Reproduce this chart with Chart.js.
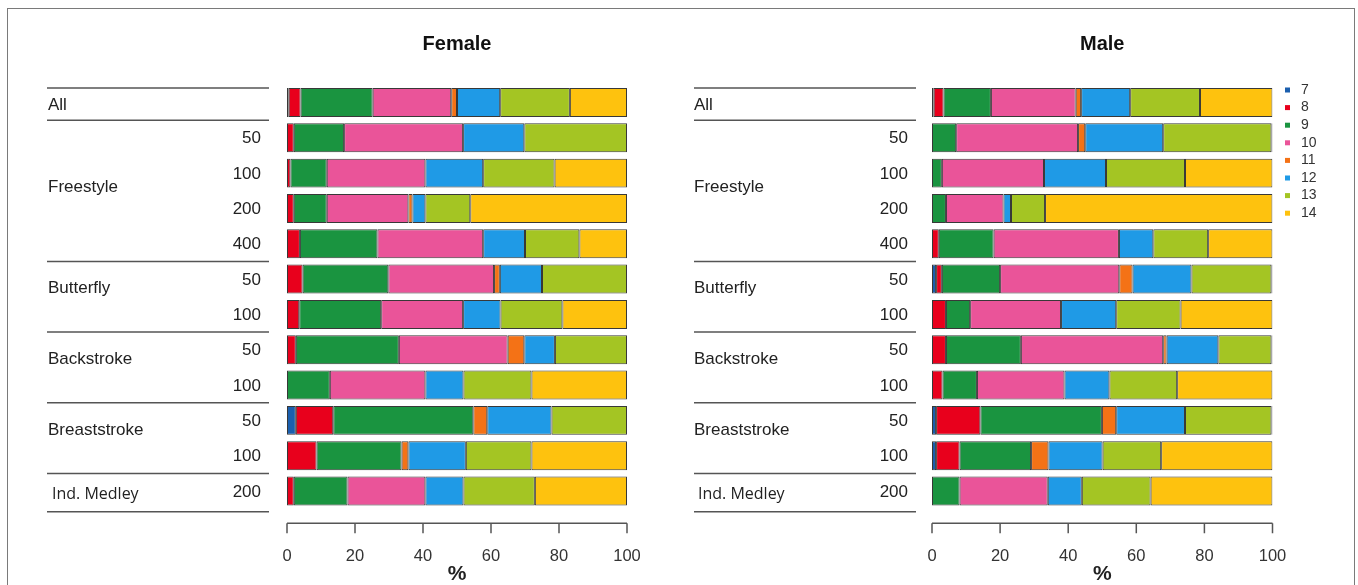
<!DOCTYPE html>
<html>
<head>
<meta charset="utf-8">
<script src="https://cdn.jsdelivr.net/npm/chart.js@4.4.0/dist/chart.umd.min.js"></script>
<style>
  body { margin: 0; background: #fff; width: 1358px; height: 585px; overflow: hidden; position: relative; }
  #frame { position: absolute; left: 7px; top: 8px; width: 1346px; height: 600px; border: 1.5px solid #7a7a7a; }
  canvas { position: absolute; top: 0; }
</style>
</head>
<body>
<div id="frame"></div>
<canvas id="femaleChart" width="679" height="585" style="left:0"></canvas>
<canvas id="maleChart" width="679" height="585" style="left:679px"></canvas>
<script>
// rows of the table
const strokes = ['All', 'Freestyle', 'Freestyle', 'Freestyle', 'Freestyle', 'Butterfly', 'Butterfly',
  'Backstroke', 'Backstroke', 'Breaststroke', 'Breaststroke', 'Ind. Medley'];
const distances = ['', '50', '100', '200', '400', '50', '100', '50', '100', '50', '100', '200'];
const ages = ['7', '8', '9', '10', '11', '12', '13', '14'];
const xTicks = [0, 20, 40, 60, 80, 100];

// female, % per age (rows as above)
const female7  = [0.5, 0, 0, 0, 0, 0, 0, 0, 0, 2.6, 0, 0];
const female8  = [3.5, 2, 1, 2, 3.8, 4.6, 3.6, 2.6, 0, 11, 8.7, 2];
const female9  = [21.2, 14.8, 10.7, 9.7, 22.8, 25.2, 24.1, 30.3, 12.6, 41.2, 25, 15.8];
const female10 = [23.1, 35, 29, 24, 31.1, 31.1, 24.1, 32, 28.1, 0, 0, 22.9];
const female11 = [1.7, 0, 0, 1.2, 0, 1.7, 0, 4.9, 0, 4.1, 2, 0];
const female12 = [12.7, 18, 17, 3.8, 12.3, 12.4, 11, 9, 11.2, 18.9, 16.9, 11.2];
const female13 = [20.5, 30.2, 21, 13.2, 16, 25, 18.2, 21.2, 20, 22.2, 19.3, 21];
const female14 = [16.8, 0, 21.3, 46.1, 14, 0, 19, 0, 28.1, 0, 28.1, 27.1];

// male
const male7  = [0.5, 0, 0, 0, 0, 1.2, 0, 0, 0, 1.2, 1.2, 0];
const male8  = [2.9, 0, 0, 0, 2, 1.7, 4.1, 4.1, 3.1, 13, 6.9, 0];
const male9  = [13.9, 7.1, 2.9, 4.1, 16.1, 17.1, 7.1, 22, 10.1, 35.7, 21, 8.1];
const male10 = [24.9, 35.8, 30, 16.9, 36.8, 35, 26.7, 41.8, 25.7, 0, 0, 25.9];
const male11 = [1.6, 2.1, 0, 0, 0, 3.9, 0, 1, 0, 4.2, 5.1, 0];
const male12 = [14.4, 22.9, 18.2, 2.2, 10.1, 17.3, 16.2, 15.2, 13.2, 20.2, 15.9, 10];
const male13 = [20.5, 31.8, 23.2, 10, 16.1, 23.5, 18.9, 15.6, 19.9, 25.4, 17.2, 20.2];
const male14 = [21.3, 0.3, 25.7, 66.8, 18.9, 0.3, 27, 0.3, 28, 0.3, 32.7, 35.8];

const ageColors = ['#1b5fae', '#e8001c', '#1a9440', '#ea5499', '#f47216', '#1f9ae6', '#a4c523', '#fec20e'];

const FONT = '"Liberation Sans", Arial, sans-serif';

// table labels, separators, title, axis line and legend
const tablePlugin = {
  id: 'swimTable',
  afterDraw(chart, args, opts) {
    const { ctx, chartArea } = chart;
    const ys = chart.scales.y, xs = chart.scales.x;
    const rowY = i => ys.getPixelForValue(i);
    const half = (rowY(1) - rowY(0)) / 2;
    ctx.save();

    // panel title
    ctx.fillStyle = '#111';
    ctx.font = 'bold 20px ' + FONT;
    ctx.textAlign = 'center';
    ctx.textBaseline = 'middle';
    ctx.fillText(opts.title, (chartArea.left + chartArea.right) / 2, 44);

    // separators
    ctx.strokeStyle = '#555';
    ctx.lineWidth = 1.5;
    const seps = [rowY(0) - 14.5];
    for (let i = 0; i < strokes.length - 1; i++) {
      if (strokes[i] !== strokes[i + 1]) seps.push(rowY(i) + half);
    }
    seps.push(rowY(strokes.length - 1) + half + 3);
    seps.forEach(y => {
      ctx.beginPath();
      ctx.moveTo(opts.lineLeft, y);
      ctx.lineTo(opts.lineRight, y);
      ctx.stroke();
    });

    // stroke names
    ctx.fillStyle = '#222';
    ctx.textAlign = 'left';
    let start = 0;
    for (let i = 1; i <= strokes.length; i++) {
      if (i === strokes.length || strokes[i] !== strokes[start]) {
        const n = i - start;
        let y = (rowY(start) + rowY(i - 1)) / 2;
        if (n === 1) y += 3; else if (n === 2) y -= 8; else y -= 3;
        if (strokes[start] === 'Ind. Medley') {
          ctx.font = '16px "Open Sans", sans-serif';
          ctx.fillText(strokes[start], opts.labelX + 4, y);
        } else {
          ctx.font = '17px ' + FONT;
          ctx.fillText(strokes[start], opts.labelX, y);
        }
        start = i;
      }
    }

    // distances
    ctx.font = '17px ' + FONT;
    ctx.textAlign = 'right';
    distances.forEach((d, i) => ctx.fillText(d, opts.distRight, rowY(i) + 1));

    // x axis line with ticks
    const ay = chartArea.bottom + 14.5;
    ctx.strokeStyle = '#555';
    ctx.beginPath();
    ctx.moveTo(xs.getPixelForValue(xTicks[0]), ay);
    ctx.lineTo(xs.getPixelForValue(xTicks[xTicks.length - 1]), ay);
    xTicks.forEach(t => {
      const px = xs.getPixelForValue(t);
      ctx.moveTo(px, ay);
      ctx.lineTo(px, ay + 10);
    });
    ctx.stroke();

    // legend
    if (opts.legend) {
      ctx.font = '14px ' + FONT;
      ctx.textAlign = 'left';
      chart.data.datasets.forEach((ds, i) => {
        const y = 90 + i * 17.6;
        ctx.fillStyle = ds.backgroundColor;
        ctx.fillRect(opts.legendX, y - 2.5, 5, 5);
        ctx.fillStyle = '#333';
        ctx.fillText(ds.label, opts.legendX + 16, y);
      });
    }
    ctx.restore();
  }
};

function makeChart(id, series, deco, padding) {
  return new Chart(document.getElementById(id), {
    type: 'bar',
    data: {
      labels: strokes.map((s, i) => (s + ' ' + distances[i]).trim()),
      datasets: ages.map((a, i) => ({
        label: a,
        data: series[i],
        backgroundColor: ageColors[i],
        borderColor: '#383838',
        borderWidth: 1,
        borderSkipped: false,
        barPercentage: 0.82,
        categoryPercentage: 1
      }))
    },
    options: {
      indexAxis: 'y',
      responsive: false,
      animation: false,
      layout: { padding: padding },
      plugins: {
        legend: { display: false },
        tooltip: { enabled: false },
        swimTable: deco
      },
      scales: {
        y: { stacked: true, display: false },
        x: {
          stacked: true,
          min: 0,
          max: 100,
          afterFit: s => { s.height = 76.3; },
          afterBuildTicks: s => { s.ticks = xTicks.map(v => ({ value: v })); },
          grid: { display: false, drawTicks: false },
          border: { display: false },
          ticks: { padding: 37.5, color: '#333', font: { family: FONT, size: 16.5 } },
          title: {
            display: true,
            text: '%',
            color: '#222',
            padding: 0,
            font: { family: FONT, size: 21, weight: 'bold', lineHeight: 1 }
          }
        }
      }
    },
    plugins: [tablePlugin]
  });
}

makeChart('femaleChart',
  [female7, female8, female9, female10, female11, female12, female13, female14],
  { title: 'Female', lineLeft: 47, lineRight: 269, labelX: 48, distRight: 261, legend: false },
  { left: 287, right: 52, top: 84.8, bottom: 0 });

makeChart('maleChart',
  [male7, male8, male9, male10, male11, male12, male13, male14],
  { title: 'Male', lineLeft: 15, lineRight: 237, labelX: 15, distRight: 229, legend: true, legendX: 606 },
  { left: 253, right: 85.5, top: 84.8, bottom: 0 });
</script>
</body>
</html>
